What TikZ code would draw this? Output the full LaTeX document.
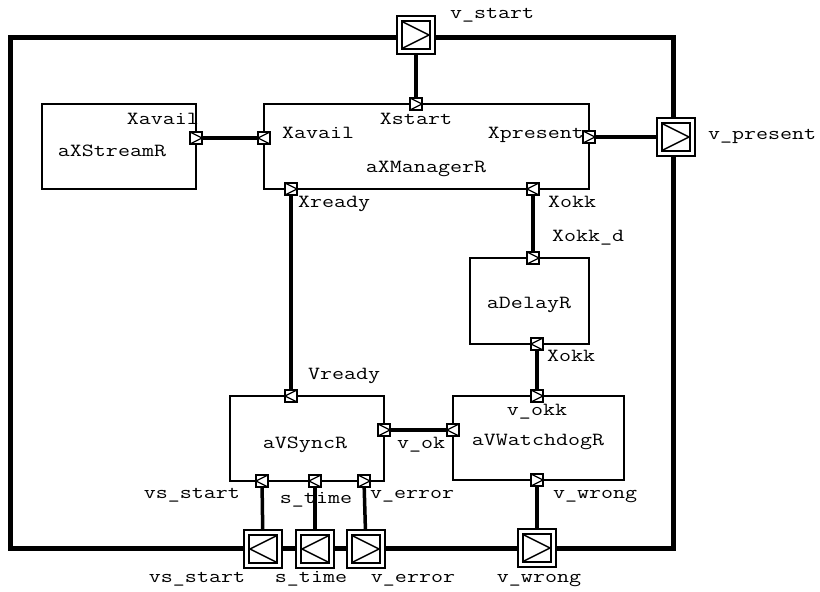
\documentclass[tikz,border=0pt]{standalone}
\usepackage{fontspec}
\setmonofont{Latin Modern Mono}[FakeStretch=1.26]
\usetikzlibrary{positioning}

\begin{document}
\begin{tikzpicture}[
        x=1pt, y=-1pt,
        font=\ttfamily\fontsize{18.5}{22}\selectfont,
        block/.style={
            rectangle,
            draw,
            line width=1.6pt,
            inner sep=0pt
        },
        wire/.style={
            line width=3.5pt
        },
        border/.style={
            line width=5pt
        },
        lbl/.style={
            inner sep=0pt,
            text height=11pt,
            text depth=0pt
        },
        sport/.style={
            rectangle, draw, fill=white,
            line width=1.8pt,
            minimum size=12pt,
            inner sep=0pt
        },
        sportR/.style={sport, path picture={
            \draw[line width=1.2pt] (path picture bounding box.north west) -- (path picture bounding box.east) -- (path picture bounding box.south west);
        }},
        sportL/.style={sport, path picture={
            \draw[line width=1.2pt] (path picture bounding box.north east) -- (path picture bounding box.west) -- (path picture bounding box.south east);
        }},
        bport/.style={
            rectangle, draw, fill=white,
            line width=1.8pt,
            minimum size=38pt,
            inner sep=0pt
        },
        bportR/.style={bport, path picture={
            \draw[line width=2.5pt] ([shift={(5pt,-5pt)}]path picture bounding box.north west) rectangle ([shift={(-5pt,5pt)}]path picture bounding box.south east);
            \draw[line width=1.5pt] ([shift={(6pt,-6pt)}]path picture bounding box.north west) -- ([xshift=-6pt]path picture bounding box.east) -- ([shift={(6pt,6pt)}]path picture bounding box.south west);
        }},
        bportL/.style={bport, path picture={
            \draw[line width=2.5pt] ([shift={(5pt,-5pt)}]path picture bounding box.north west) rectangle ([shift={(-5pt,5pt)}]path picture bounding box.south east);
            \draw[line width=1.5pt] ([shift={(-6pt,-6pt)}]path picture bounding box.north east) -- ([xshift=6pt]path picture bounding box.west) -- ([shift={(-6pt,6pt)}]path picture bounding box.south east);
        }}
    ]
    \useasboundingbox (0,0) rectangle (820,592);

    % Outer frame
    \draw[border] (10,37) rectangle (673,548);

    % Blocks
    \node[block, minimum width=154pt, minimum height=85pt] (stream) at (119,146.5) {};
    \node[block, minimum width=325pt, minimum height=85pt] (manager) at (426.5,146.5) {};
    \node[block, minimum width=119pt, minimum height=86pt] (delay) at (529.5,301) {};
    \node[block, minimum width=154pt, minimum height=85pt] (sync) at (307,438.5) {};
    \node[block, minimum width=171pt, minimum height=84pt] (watchdog) at (538.5,438) {};

    % Block ports
    \node[sportR] (strAvail) at (196,138) {};
    \node[sportL] (mgrAvail) at (264,138) {};
    \node[sportR] (mgrStart) at (416,104) {};
    \node[sportR] (mgrPresent) at (589,137) {};
    \node[sportR] (mgrReady) at (291,189) {};
    \node[sportL] (mgrOkk) at (533,189) {};
    \node[sportR] (dlyIn) at (533,258) {};
    \node[sportL] (dlyOut) at (537,344) {};
    \node[sportR] (wdOkk) at (537,396) {};
    \node[sportL] (wdOk) at (453,430) {};
    \node[sportR] (wdWrong) at (537,480) {};
    \node[sportL] (syReady) at (291,396) {};
    \node[sportR] (syOk) at (384,430) {};
    \node[sportL] (syStart) at (262,481) {};
    \node[sportL] (syTime) at (315,481) {};
    \node[sportR] (syError) at (364,481) {};

    % Frame ports
    \node[bportR] (pStart) at (416,35) {};
    \node[bportR] (pPresent) at (676,137) {};
    \node[bportL] (pVsStart) at (263,549) {};
    \node[bportL] (pTime) at (315,549) {};
    \node[bportR] (pError) at (366,549) {};
    \node[bportR] (pWrong) at (537,548) {};

    % Wires
    \draw[wire] (pStart) -- (mgrStart);
    \draw[wire] (strAvail) -- (mgrAvail);
    \draw[wire] (mgrPresent) -- (pPresent);
    \draw[wire] (mgrReady) -- (syReady);
    \draw[wire] (mgrOkk) -- (dlyIn);
    \draw[wire] (dlyOut) -- (wdOkk);
    \draw[wire] (syOk) -- (wdOk);
    \draw[wire] (syStart) -- (pVsStart);
    \draw[wire] (syTime) -- (pTime);
    \draw[wire] (syError) -- (pError);
    \draw[wire] (wdWrong) -- (pWrong);

    % Block names
    \node[lbl] (nStream) at (112,151) {aXStreamR};
    \node[lbl] (nManager) at (426,167) {aXManagerR};
    \node[lbl] (nDelay) at (529,303) {aDelayR};
    \node[lbl] (nSync) at (305,443) {aVSyncR};
    \node[lbl] (nWatchdog) at (538,440) {aVWatchdogR};

    % Port labels
    \node[lbl, anchor=east] (lStrAvail) at (199,119) {Xavail};
    \node[lbl, anchor=west] (lMgrAvail) at (282,133) {Xavail};
    \node[lbl] (lMgrStart) at (416,119) {Xstart};
    \node[lbl, anchor=east] (lMgrPresent) at (584,133) {Xpresent};
    \node[lbl, anchor=west] (lMgrReady) at (298,202) {Xready};
    \node[lbl, anchor=west] (lMgrOkk) at (548,202) {Xokk};
    \node[lbl, anchor=west] (lDlyIn) at (552,236) {Xokk\_d};
    \node[lbl, anchor=west] (lDlyOut) at (547,356) {Xokk};
    \node[lbl, anchor=west] (lSyReady) at (308,374) {Vready};
    \node[lbl, anchor=west] (lSyOk) at (397,443) {v\_ok};
    \node[lbl] (lWdOkk) at (537,410) {v\_okk};
    \node[lbl, anchor=west] (lWdWrong) at (553,493) {v\_wrong};
    \node[lbl, anchor=east] (lSyStart) at (240,493) {vs\_start};
    \node[lbl] (lSyTime) at (316,498) {s\_time};
    \node[lbl, anchor=west] (lSyError) at (370,493) {v\_error};

    % Frame port labels
    \node[lbl, anchor=west] (lStart) at (450,13) {v\_start};
    \node[lbl, anchor=west] (lPresent) at (708,134) {v\_present};
    \node[lbl] (lVsStart) at (197,577) {vs\_start};
    \node[lbl] (lTime) at (311,577) {s\_time};
    \node[lbl] (lError) at (413,577) {v\_error};
    \node[lbl] (lWrong) at (539,577) {v\_wrong};

\end{tikzpicture}
\end{document}
